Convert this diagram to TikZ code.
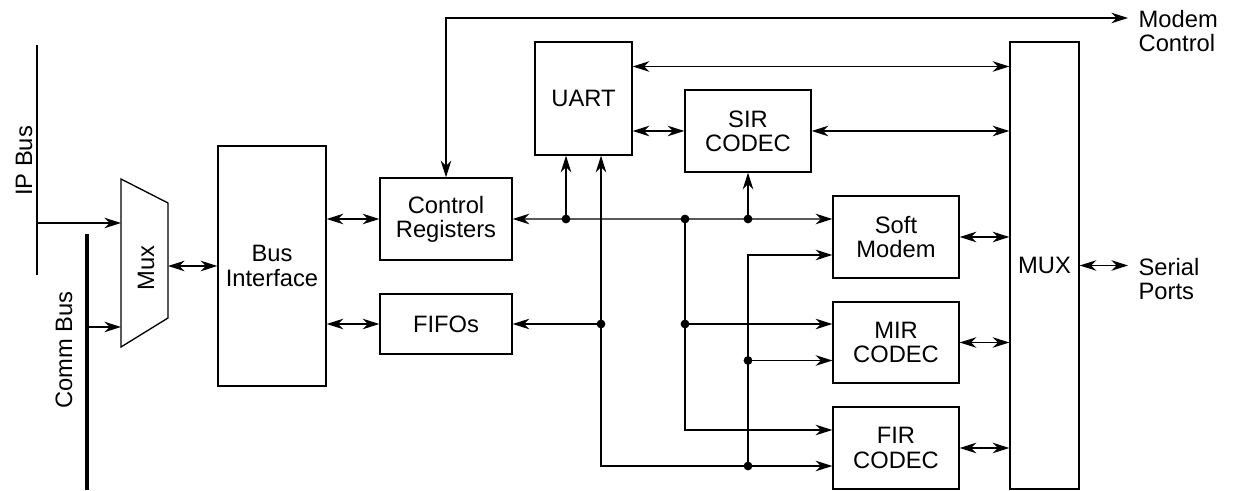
\documentclass[tikz,border=0pt]{standalone}
\usepackage{fontspec}
\setmainfont{Liberation Sans}
\usetikzlibrary{calc,positioning,arrows.meta}

\begin{document}
\begin{tikzpicture}[>={Stealth[length=9.5pt,width=6pt,inset=3pt]},
        line width=0.75pt, font=\fontsize{13.5}{13.8}\selectfont,
        blk/.style={draw, rectangle, align=center, inner sep=0pt}]
        \useasboundingbox (0,0) rectangle (25,9.82);
        % buses on the left
        \coordinate (iptop) at (0.74,8.92);
        \coordinate (ipbot) at (0.74,4.32);
        \coordinate (cmtop) at (1.74,5.14);
        \coordinate (cmbot) at (1.74,0.02);
        \draw (iptop) -- (ipbot);
        \draw[line width=2.3pt] (cmtop) -- (cmbot);
        \node[rotate=90] (iplbl) at (0.48,6.60) {IP Bus};
        \node[rotate=90] (cmlbl) at (1.28,2.82) {Comm Bus};
        % input mux
        \coordinate (mnw) at (2.42,6.24);
        \coordinate (mne) at (3.36,5.76);
        \coordinate (mse) at (3.36,3.46);
        \coordinate (msw) at (2.42,2.88);
        \draw (mnw) -- (mne) -- (mse) -- (msw) -- cycle;
        \node[rotate=90] (mux) at (2.92,4.46) {Mux};
        \coordinate (min1) at (2.42,5.36);
        \coordinate (min2) at (2.42,3.28);
        \coordinate (mout) at (3.36,4.50);
        \draw[->] (iptop |- min1) -- (min1);
        \draw[->] (cmtop |- min2) -- (min2);
        % blocks
        \node[blk, minimum width=2.16cm, minimum height=4.8cm]
            (bi) at (5.44,4.50) {Bus\\Interface};
        \node[blk, minimum width=2.64cm, minimum height=1.64cm]
            (cr) at (8.92,5.44) {Control\\Registers};
        \node[blk, minimum width=2.64cm, minimum height=1.2cm]
            (fifo) at (8.92,3.34) {FIFOs};
        \node[blk, minimum width=1.94cm, minimum height=2.26cm]
            (uart) at (11.67,7.85) {UART};
        \node[blk, minimum width=2.52cm, minimum height=1.64cm]
            (sir) at (14.96,7.20) {SIR\\CODEC};
        \node[blk, minimum width=2.52cm, minimum height=1.64cm]
            (soft) at (17.92,5.08) {Soft\\Modem};
        \node[blk, minimum width=2.52cm, minimum height=1.62cm]
            (mir) at (17.92,2.97) {MIR\\CODEC};
        \node[blk, minimum width=2.52cm, minimum height=1.64cm]
            (fir) at (17.92,0.86) {FIR\\CODEC};
        \node[blk, minimum width=1.38cm, minimum height=8.94cm]
            (muxb) at (20.89,4.51) {MUX};
        % outputs on the right
        \coordinate (mctl) at (22.56,9.46);
        \coordinate (sport) at (22.56,4.51);
        \node[anchor=west, align=left, inner sep=0pt]
            (mclbl) at (22.76,9.20) {Modem\\Control};
        \node[anchor=west, align=left, inner sep=0pt]
            (splbl) at (22.76,4.24) {Serial\\Ports};
        % junctions
        \coordinate (j1) at (11.32,5.44);
        \coordinate (j2) at (13.70,5.44);
        \coordinate (j3) at (14.96,5.44);
        \coordinate (j4) at (12.02,3.34);
        \coordinate (j5) at (13.70,3.34);
        \coordinate (j6) at (14.96,2.61);
        \coordinate (j7) at (14.96,0.50);
        \coordinate (vb) at (12.02,0.50);
        % connectors
        \draw[<->] (mout) -- (bi.west);
        \draw[<->] (bi.east |- cr) -- (cr.west);
        \draw[<->] (bi.east |- fifo) -- (fifo.west);
        \draw[<->] (cr.north) |- (mctl);
        \draw[<->] ($(uart.east)+(0,0.64)$) coordinate (ua) -- (ua -| muxb.west);
        \draw[<->] (uart.east |- sir) -- (sir.west);
        \draw[<->] (sir.east) -- (sir.east -| muxb.west);
        \foreach \b in {soft,mir,fir}
            \draw[<->] (\b.east) -- (\b.east -| muxb.west);
        \draw[<->] (muxb.east) -- (sport);
        \draw[<->] (cr.east) -- ($(soft.west)+(0,0.36)$);
        \draw[->] (j1) -- (j1 |- uart.south);
        \draw[<->] (j4 |- uart.south) -- (vb) -- (vb -| fir.west);
        \draw[->] (j4) -- (fifo.east);
        \draw[->] (j2) |- ($(fir.west)+(0,0.36)$);
        \draw[->] (j5) -- (j5 -| mir.west);
        \draw[->] (j3) -- (sir.south);
        \draw[->] (j7) |- ($(soft.west)+(0,-0.36)$);
        \draw[->] (j6) -- (j6 -| mir.west);
        \foreach \j in {j1,j2,j3,j4,j5,j6,j7}
            \fill (\j) circle (2.5pt);
    \end{tikzpicture}
\end{document}
